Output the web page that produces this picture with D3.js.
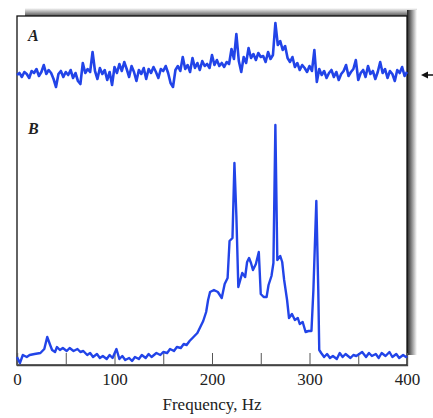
<!DOCTYPE html>
<html>
<head>
<meta charset="utf-8">
<script src="https://cdn.jsdelivr.net/npm/d3@7"></script>
<style>
  html, body { margin: 0; padding: 0; background: #fff; }
  svg { display: block; }
</style>
</head>
<body>
<svg id="chart" width="433" height="418"></svg>
<script>
// trace A: evenly spaced every 2.5 Hz from 0 to 400
const aStep = 2.5
const aAmp = [
  0, 2, -2, 3, 1, -3, 4, 2, 6, -1, 3, 10, 1, 5, 2, -4, -12, 1, 4, -2,
  3, 0, 5, -3, 2, -6, -9, 12, 2, 6, 3, 23, 4, -4, 7, 1, 5, -5, 3, -10,
  8, 2, 11, 4, 13, 6, -2, 9, 3, -6, 5, 1, 7, -4, 6, 2, 8, 3, -3, 6,
  4, 9, 2, -8, -12, 5, 9, 4, 18, 6, 10, 3, 17, 7, 12, 5, 14, 9, 11, 7,
  20, 10, 15, 9, 12, 8, 13, 11, 26, 16, 41, 14, 3, 18, 12, 27, 17, 21, 15, 22,
  18, 19, 13, 23, 16, 20, 52, 30, 34, 25, 29, 17, 13, 18, 8, 12, 5, 10, 7, 3,
  9, 4, 25, -7, 6, 0, 4, -3, 2, 5, -2, 3, -5, 1, 4, 10, -1, 3, 6, 15,
  -5, 2, 5, -2, 9, 1, 4, -4, 3, 13, 2, 6, -3, 4, 1, -6, 5, 2, 8, -1, 3
]

// trace B: frequency (Hz) and amplitude
const bFreq = [
  0, 3, 6, 10, 13, 18, 24, 28, 31, 34, 36, 39, 41, 44, 47, 51, 54, 58, 62, 65,
  68, 72, 75, 78, 82, 85, 88, 92, 95, 98, 102, 105, 108, 111, 115, 118, 121, 125, 128, 132,
  135, 138, 143, 147, 150, 154, 157, 161, 164, 168, 171, 174, 177, 181, 185, 188, 191, 194, 196, 198,
  202, 206, 210, 213, 216, 218, 221, 223, 225, 227, 229, 231, 234, 236, 238, 240, 242, 245, 248, 250,
  253, 256, 258, 261, 263, 265, 267, 270, 272, 274, 277, 279, 282, 285, 288, 290, 293, 296, 299, 302,
  304, 307, 309, 310, 312, 315, 318, 321, 324, 328, 331, 334, 337, 342, 345, 348, 351, 354, 358, 361,
  364, 368, 371, 374, 378, 382, 385, 389, 392, 396, 399, 400
]
const bAmp = [
  8, 2, 10, 8, 10, 11, 12, 16, 28, 20, 15, 13, 18, 15, 17, 14, 17, 14, 16, 13,
  14, 10, 12, 8, 11, 7, 9, 6, 10, 7, 16, 6, 9, 5, 7, 4, 8, 6, 10, 7,
  11, 8, 12, 10, 13, 12, 16, 14, 18, 17, 21, 20, 24, 28, 32, 38, 44, 53, 65, 73,
  75, 73, 67, 81, 87, 124, 127, 202, 149, 78, 85, 92, 88, 103, 107, 102, 95, 101, 113, 71,
  68, 68, 80, 89, 102, 240, 105, 109, 103, 85, 65, 47, 51, 45, 47, 41, 43, 33, 34, 34,
  75, 164, 75, 15, 12, 8, 11, 7, 9, 6, 12, 8, 11, 7, 10, 9, 11, 13, 8, 12,
  9, 11, 7, 12, 9, 13, 8, 11, 7, 10, 8, 9
]

const xTicks = [0, 50, 100, 150, 200, 250, 300, 350, 400]

const svg = d3.select('#chart')
const plot = { left: 17, right: 407, top: 16, bottom: 365 }

const x = d3.scaleLinear().domain([0, 400]).range([plot.left, plot.right])
const yA = d3.scaleLinear().domain([-15, 55]).range([90, 20])
const yB = d3.scaleLinear().domain([0, 250]).range([plot.bottom, 115])

// drop shadow along top and right edges
const defs = svg.append('defs')
const gTop = defs.append('linearGradient').attr('id', 'shTop')
  .attr('x1', 0).attr('y1', 1).attr('x2', 0).attr('y2', 0)
gTop.append('stop').attr('offset', '0%').attr('stop-color', '#555')
gTop.append('stop').attr('offset', '100%').attr('stop-color', '#fff')
const gRight = defs.append('linearGradient').attr('id', 'shRight')
  .attr('x1', 0).attr('y1', 0).attr('x2', 1).attr('y2', 0)
gRight.append('stop').attr('offset', '0%').attr('stop-color', '#222')
gRight.append('stop').attr('offset', '100%').attr('stop-color', '#fff')

svg.append('rect').attr('x', plot.left + 8).attr('y', plot.top - 8)
  .attr('width', plot.right - plot.left + 2).attr('height', 8).attr('fill', 'url(#shTop)')
svg.append('rect').attr('x', plot.right).attr('y', plot.top - 6)
  .attr('width', 10).attr('height', plot.bottom - plot.top - 4).attr('fill', 'url(#shRight)')

// frame
svg.append('rect')
  .attr('x', plot.left).attr('y', plot.top)
  .attr('width', plot.right - plot.left).attr('height', plot.bottom - plot.top)
  .attr('fill', '#fff').attr('stroke', '#111').attr('stroke-width', 1.3)

// bottom axis, ticks pointing inward
const axis = svg.append('g')
  .attr('transform', `translate(0,${plot.bottom})`)
  .call(d3.axisBottom(x)
    .tickValues(xTicks)
    .tickSize(-12)
    .tickPadding(8)
    .tickFormat(d => d % 100 === 0 ? d : ''))
axis.select('.domain').attr('stroke', '#444').attr('stroke-width', 1.3)
axis.selectAll('.tick line').attr('stroke', '#555')
axis.selectAll('text')
  .attr('fill', '#222')
  .style('font-family', '"Liberation Serif", "DejaVu Serif", serif')
  .style('font-size', '17px')

svg.append('text')
  .attr('x', 212).attr('y', 410)
  .attr('text-anchor', 'middle')
  .attr('fill', '#222')
  .style('font-family', '"Liberation Serif", "DejaVu Serif", serif')
  .style('font-size', '17px')
  .text('Frequency, Hz')

// traces
const blue = '#2244e8'
const lineA = d3.line().x((d, i) => x(i * aStep)).y(d => yA(d))
svg.append('path')
  .datum(aAmp)
  .attr('d', lineA)
  .attr('fill', 'none')
  .attr('stroke', blue)
  .attr('stroke-width', 2.6)
  .attr('stroke-linejoin', 'round')

const lineB = d3.line().x(d => x(d[0])).y(d => yB(d[1]))
svg.append('path')
  .datum(d3.zip(bFreq, bAmp))
  .attr('d', lineB)
  .attr('fill', 'none')
  .attr('stroke', blue)
  .attr('stroke-width', 2.4)
  .attr('stroke-linejoin', 'round')

// panel labels
svg.selectAll('.panel')
  .data([{ t: 'A', y: 41 }, { t: 'B', y: 134 }])
  .join('text')
  .attr('class', 'panel')
  .attr('x', 28).attr('y', d => d.y)
  .style('font-family', '"Liberation Serif", "DejaVu Serif", serif')
  .style('font-style', 'italic')
  .style('font-weight', 'bold')
  .style('font-size', '16px')
  .attr('fill', '#222')
  .text(d => d.t)

// baseline marker arrow on the right
svg.append('path')
  .attr('d', 'M421,75 L428,71.5 L428,74.2 L433,74.2 L433,75.8 L428,75.8 L428,78.5 Z')
  .attr('fill', '#111')
</script>
</body>
</html>
